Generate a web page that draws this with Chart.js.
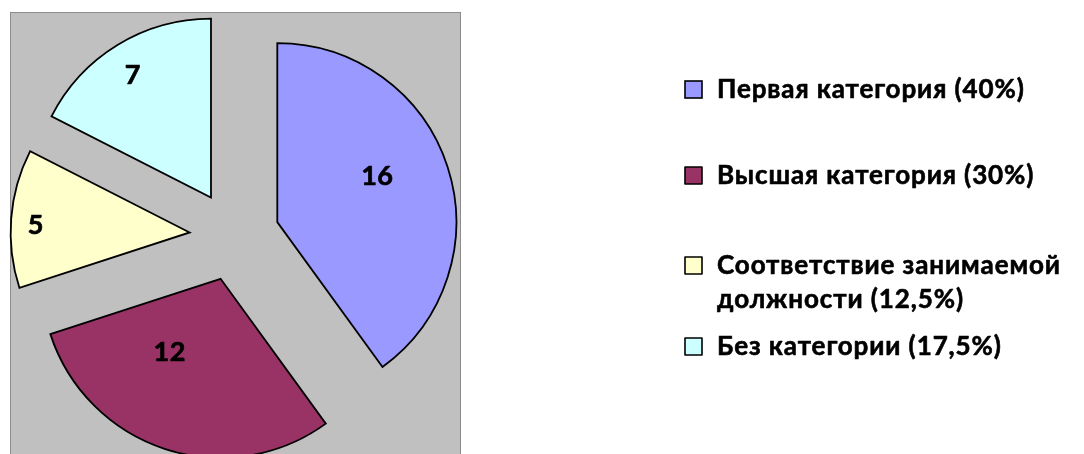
<!DOCTYPE html>
<html><head><meta charset="utf-8">
<script src="https://cdn.jsdelivr.net/npm/chart.js@4/dist/chart.umd.min.js"></script>
<style>
html,body{margin:0;padding:0;background:#fff;}
#wrap{position:relative;width:1084px;height:454px;overflow:hidden;}
#plotbg{position:absolute;left:10px;top:12px;width:449px;height:470px;background:#c0c0c0;border:1px solid #8c8c8c;}
#c{position:absolute;left:0;top:0;}
</style></head>
<body>
<div id="wrap"><div id="plotbg"></div><canvas id="c" width="1084" height="454"></canvas></div>
<script>
// ---- data ----
const categories = [
  'Первая категория (40%)',
  'Высшая категория (30%)',
  ['Соответствие занимаемой', 'должности (12,5%)'],
  'Без категории (17,5%)'
];
const values = [16, 12, 5, 7];
const sliceColors = ['#9999FF', '#993366', '#FFFFCC', '#CCFFFF'];

const FONT = 'Lato, "Open Sans", sans-serif';

// pull each slice out along its bisector (Excel-style exploded pie)
const explodePlugin = {
  id: 'explode',
  afterDatasetUpdate(chart, args, opts) {
    args.meta.data.forEach(arc => {
      const mid = (arc.startAngle + arc.endAngle) / 2;
      arc.x += Math.cos(mid) * opts.distance;
      arc.y += Math.sin(mid) * opts.distance;
    });
  }
};

function heavyText(ctx, txt, x, y, w) {
  ctx.fillText(txt, x, y);
  ctx.lineWidth = w;
  ctx.strokeStyle = ctx.fillStyle;
  ctx.lineJoin = 'round';
  ctx.strokeText(txt, x, y);
}

// value labels inside slices
const valueLabels = {
  id: 'valueLabels',
  afterDatasetsDraw(chart, args, opts) {
    const ctx = chart.ctx;
    const meta = chart.getDatasetMeta(0);
    const data = chart.data.datasets[0].data;
    ctx.save();
    ctx.font = opts.font;
    ctx.fillStyle = opts.color;
    ctx.textAlign = 'center';
    ctx.textBaseline = 'middle';
    if ('letterSpacing' in ctx) ctx.letterSpacing = opts.letterSpacing;
    meta.data.forEach((arc, i) => {
      const p = opts.place[i];
      const a = (arc.startAngle + arc.endAngle) / 2 + p.dAngle * Math.PI / 180;
      const r = arc.outerRadius * p.frac;
      heavyText(ctx, String(data[i]), arc.x + Math.cos(a) * r, arc.y + Math.sin(a) * r, 0.7);
    });
    ctx.restore();
  }
};

// legend drawn on the canvas at Excel-like positions
const sideLegend = {
  id: 'sideLegend',
  afterDraw(chart, args, o) {
    const ctx = chart.ctx;
    const labels = chart.data.labels;
    const colors = chart.data.datasets[0].backgroundColor;
    ctx.save();
    ctx.font = o.font;
    if ('letterSpacing' in ctx) ctx.letterSpacing = o.letterSpacing;
    ctx.textBaseline = 'alphabetic';
    ctx.textAlign = 'left';
    labels.forEach((lab, i) => {
      const base = o.baselines[i];
      ctx.fillStyle = colors[i];
      ctx.fillRect(o.boxX, base - o.box, o.box, o.box);
      ctx.lineWidth = 1.6;
      ctx.strokeStyle = '#000';
      ctx.strokeRect(o.boxX, base - o.box, o.box, o.box);
      ctx.fillStyle = '#000';
      const lines = Array.isArray(lab) ? lab : [lab];
      lines.forEach((ln, k) => heavyText(ctx, ln, o.textX, base + k * o.lineHeight, 0.6));
    });
    ctx.restore();
  }
};

new Chart(document.getElementById('c'), {
  type: 'pie',
  data: {
    labels: categories,
    datasets: [{
      data: values,
      backgroundColor: sliceColors,
      borderColor: '#000',
      borderWidth: 1.8,
      borderJoinStyle: 'miter'
    }]
  },
  options: {
    responsive: false,
    animation: false,
    events: [],
    radius: 179,
    layout: { padding: { left: 0, top: 18, right: 615, bottom: 0 } },
    plugins: {
      legend: { display: false },
      tooltip: { enabled: false },
      explode: { distance: 45 },
      valueLabels: {
        font: 'bold 27px ' + FONT,
        letterSpacing: '0.5px',
        color: '#000',
        place: [
          { frac: 0.615, dAngle: -6.7 },
          { frac: 0.50, dAngle: 16.6 },
          { frac: 0.86, dAngle: -1.9 },
          { frac: 0.81, dAngle: -1.1 }
        ]
      },
      sideLegend: {
        font: 'bold 26px ' + FONT,
        letterSpacing: '0.9px',
        baselines: [98, 184, 274, 355],
        lineHeight: 34,
        boxX: 685,
        box: 17,
        textX: 717
      }
    }
  },
  plugins: [explodePlugin, valueLabels, sideLegend]
});
</script>
</body></html>
